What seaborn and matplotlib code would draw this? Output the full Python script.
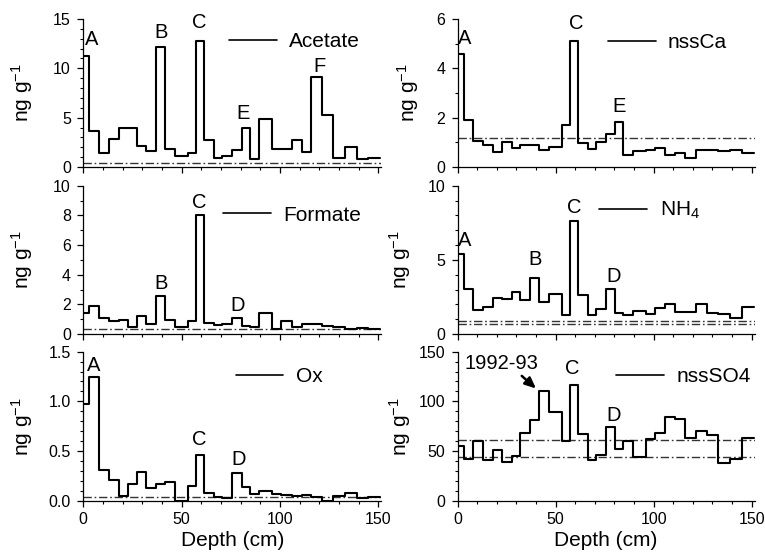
import matplotlib
matplotlib.use("Agg")
import matplotlib.pyplot as plt
from matplotlib.ticker import MultipleLocator, FormatStrFormatter
import seaborn as sns

# ---------------- data ----------------
depth_edges = [0, 3, 8, 13, 18, 22.5, 27.5, 32, 37, 41.5, 46.5, 53, 57.5, 61.5,
               66.5, 70.5, 75.5, 80.5, 84.5, 89.5, 96, 100.5, 106, 111, 116,
               121.5, 127, 133, 139, 145, 151]

acetate = [11.3, 3.6, 1.4, 2.8, 4.0, 4.0, 2.1, 1.6, 12.2, 1.8, 1.1, 1.4, 12.8,
           2.7, 0.95, 1.15, 1.75, 4.0, 0.8, 4.85, 1.85, 1.8, 2.7, 1.55, 9.1,
           5.3, 0.9, 2.0, 0.8, 0.9]
formate = [1.45, 1.9, 1.05, 0.85, 0.95, 0.5, 1.2, 0.7, 2.55, 0.95, 0.5, 0.85,
           8.0, 0.75, 0.6, 0.65, 1.05, 0.55, 0.45, 1.42, 0.35, 0.9, 0.5, 0.68,
           0.68, 0.55, 0.45, 0.35, 0.42, 0.37]
ox = [0.97, 1.25, 0.31, 0.21, 0.05, 0.17, 0.29, 0.13, 0.17, 0.19, 0.0, 0.15,
      0.46, 0.08, 0.04, 0.03, 0.28, 0.14, 0.065, 0.10, 0.07, 0.06, 0.05, 0.06,
      0.04, 0.0, 0.05, 0.08, 0.03, 0.04]
nssca = [4.6, 1.9, 1.05, 0.9, 0.6, 1.0, 0.75, 0.88, 0.88, 0.68, 0.82, 1.72,
         5.1, 0.97, 0.72, 1.0, 1.33, 1.82, 0.5, 0.65, 0.7, 0.75, 0.5, 0.55,
         0.38, 0.68, 0.68, 0.63, 0.7, 0.55]
nh4 = [5.4, 3.05, 1.65, 1.8, 2.45, 2.35, 2.85, 2.3, 3.8, 2.15, 2.7, 1.3, 7.65,
       2.6, 1.3, 1.7, 3.05, 1.4, 1.25, 1.55, 1.35, 1.75, 2.0, 1.5, 1.5, 2.0,
       1.4, 1.35, 1.05, 1.85]
nssso4 = [55, 42, 60, 41, 51, 39, 45, 68, 81, 110, 89, 60, 116, 67, 41, 46, 74,
          52, 60, 44, 62, 68, 84, 82, 63, 70, 66, 38, 42, 63]

baseline_acetate = [0.45]
baseline_formate = [0.32]
baseline_ox = [0.033]
baseline_nssca = [1.18]
baseline_nh4 = [0.9, 0.68]
baseline_nssso4 = [61.5, 44.3]

series_names = ["Acetate", "Formate", "Ox", "nssCa", "NH$_4$", "nssSO4"]
x_ticks = [0, 50, 100, 150]

# ---------------- style ----------------
sns.set_style("ticks")
plt.rcParams["font.family"] = ["Liberation Sans", "DejaVu Sans"]
plt.rcParams["mathtext.default"] = "regular"
plt.rcParams["axes.linewidth"] = 0.9
for k in ("text.color", "axes.labelcolor", "xtick.color", "ytick.color",
          "axes.edgecolor", "xtick.labelcolor", "ytick.labelcolor"):
    plt.rcParams[k] = "black"

fig = plt.figure(figsize=(7.65, 5.54), dpi=100)

W_L, W_R = 0.3895, 0.388
X_L, X_R = 0.1089, 0.5983
rows = [(0.6986, 0.2671), (0.3971, 0.2677), (0.0962, 0.2690)]

panels = [
    dict(vals=acetate, base=baseline_acetate, name=series_names[0], pos=(X_L, *rows[0], W_L),
         ylim=15, major=5, minor=1, fmt="%d", leg=(0.489, 0.847), ylab_x=-0.162,
         letters=[("A", 4.3, 12.9), ("B", 39.5, 13.6), ("C", 58.8, 14.6), ("E", 81.0, 5.4), ("F", 120.0, 10.2)]),
    dict(vals=formate, base=baseline_formate, name=series_names[1], pos=(X_L, *rows[1], W_L),
         ylim=10, major=2, minor=1, fmt="%d", leg=(0.468, 0.802), ylab_x=-0.162,
         letters=[("B", 39.5, 3.4), ("C", 58.8, 8.9), ("D", 78.3, 1.95)]),
    dict(vals=ox, base=baseline_ox, name=series_names[2], pos=(X_L, *rows[2], W_L),
         ylim=1.5, major=0.5, minor=0.1, fmt="%.1f", leg=(0.511, 0.832), ylab_x=-0.162,
         letters=[("A", 5.1, 1.36), ("C", 58.8, 0.62), ("D", 78.8, 0.41)]),
    dict(vals=nssca, base=baseline_nssca, name=series_names[3], pos=(X_R, *rows[0], W_R),
         ylim=6, major=2, minor=1, fmt="%d", leg=(0.505, 0.840), ylab_x=-0.125,
         letters=[("A", 3.6, 5.2), ("C", 60.4, 5.83), ("E", 82.4, 2.44)]),
    dict(vals=nh4, base=baseline_nh4, name=series_names[4], pos=(X_R, *rows[1], W_R),
         ylim=10, major=5, minor=1, fmt="%d", leg=(0.477, 0.831), ylab_x=-0.150,
         letters=[("A", 3.6, 6.3), ("B", 39.4, 5.0), ("C", 59.5, 8.55), ("D", 79.4, 3.9)]),
    dict(vals=nssso4, base=baseline_nssso4, name=series_names[5], pos=(X_R, *rows[2], W_R),
         ylim=150, major=50, minor=10, fmt="%d", leg=(0.535, 0.832), ylab_x=-0.150,
         letters=[("C", 58.7, 133.0), ("D", 79.4, 86.0)]),
]

for i, p in enumerate(panels):
    x0, b, h, w = p["pos"]
    ax = fig.add_axes([x0, b, w, h])
    yvals = list(p["vals"]) + [p["vals"][-1]]
    sns.lineplot(x=depth_edges, y=yvals, drawstyle="steps-post", color="black",
                 linewidth=1.5, label=p["name"], ax=ax, estimator=None, sort=False)
    for bl in p["base"]:
        ax.axhline(bl, color="#333333", linewidth=1.0, linestyle=(0, (6, 2, 1.2, 2)), zorder=1)
    ax.set_xlim(0, 151.5)
    ax.set_ylim(0, p["ylim"])
    ax.xaxis.set_major_locator(MultipleLocator(50))
    ax.xaxis.set_minor_locator(MultipleLocator(10))
    ax.yaxis.set_major_locator(MultipleLocator(p["major"]))
    ax.yaxis.set_minor_locator(MultipleLocator(p["minor"]))
    ax.yaxis.set_major_formatter(FormatStrFormatter(p["fmt"]))
    ax.tick_params(axis="both", which="major", direction="out", length=4, width=0.9,
                   labelsize=11.5, pad=4, color="black", labelcolor="black")
    ax.tick_params(axis="both", which="minor", direction="out", length=2.5, width=0.8, color="black")
    ax.tick_params(axis="y", which="major", pad=5)
    sns.despine(ax=ax)
    ax.set_ylabel("ng g$^{-1}$", fontsize=15, color="black")
    ax.yaxis.set_label_coords(p["ylab_x"], 0.5)
    if i in (2, 5):
        ax.set_xticks(x_ticks)
        ax.set_xlabel("Depth (cm)", fontsize=15, color="black")
        ax.xaxis.set_label_coords(0.5, -0.205)
    else:
        ax.set_xlabel("")
        ax.tick_params(axis="x", labelbottom=False)
    for t, lx, ly in p["letters"]:
        ax.text(lx, ly, t, fontsize=14.5, ha="center", va="center", color="black")
    leg = ax.legend(loc="center left", bbox_to_anchor=p["leg"], frameon=False,
                    borderpad=0, borderaxespad=0, handlelength=2.3,
                    handletextpad=0.6, fontsize=15, labelcolor="black")
    for ln in leg.get_lines():
        ln.set_linewidth(1.2)
    if i == 5:
        ax.annotate("1992-93", xy=(40.5, 112), xytext=(22.5, 138.5), fontsize=14.5,
                    ha="center", va="center", color="black",
                    arrowprops=dict(arrowstyle="-|>,head_length=0.45,head_width=0.2",
                                    color="black", lw=1.8, relpos=(0.72, 0.0),
                                    shrinkA=0, shrinkB=1))

fig.savefig("out.png", dpi=100)
